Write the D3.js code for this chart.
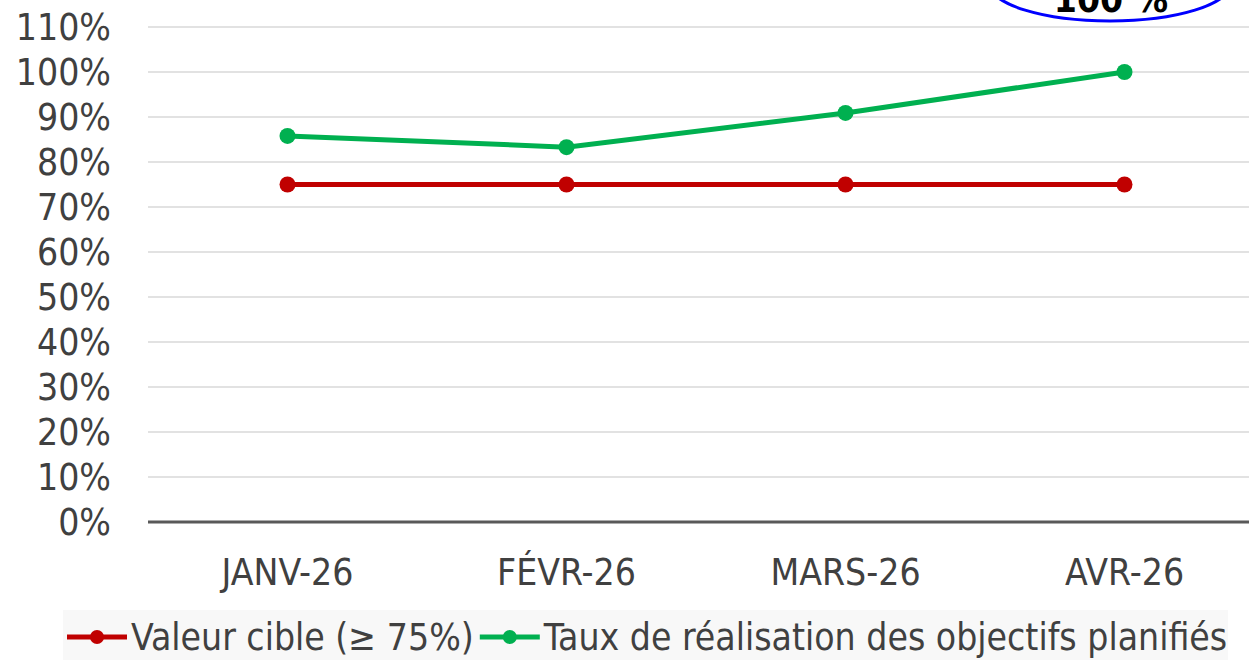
<!DOCTYPE html>
<html>
<head>
    <script src="https://d3js.org/d3.v7.min.js"></script>
    <style>
        body { margin: 0; background: #fff; }
        text { font-family: "DejaVu Sans Condensed", "DejaVu Sans", sans-serif; fill: #404040; }
        .grid line { stroke: #d9d9d9; stroke-width: 1.5px; }
    </style>
</head>
<body>
    <div id="chart"></div>
    <script>
        // Chart data
        const months = ['JANV-26', 'FÉVR-26', 'MARS-26', 'AVR-26'];
        const cible = [0.75, 0.75, 0.75, 0.75];
        const taux = [0.858, 0.833, 0.909, 1.0];
        const yTicks = [0, 0.1, 0.2, 0.3, 0.4, 0.5, 0.6, 0.7, 0.8, 0.9, 1.0, 1.1];
        const seriesNames = ['Valeur cible (≥ 75%)', 'Taux de réalisation des objectifs planifiés'];
        const seriesColors = ['#c00000', '#00b050'];
        const badge = '100 %';

        const width = 1249, height = 660;
        const fs = '37px';

        const svg = d3.select('#chart').append('svg')
            .attr('width', width)
            .attr('height', height);

        const x = d3.scaleBand().domain(months).range([148, 1264]);
        const y = d3.scaleLinear().domain([0, 1.1]).range([522, 27]);

        // gridlines
        svg.append('g').attr('class', 'grid')
            .selectAll('line')
            .data(yTicks.filter(d => d > 0))
            .join('line')
            .attr('x1', 148).attr('x2', 1264)
            .attr('y1', d => y(d)).attr('y2', d => y(d));

        // y labels
        svg.append('g')
            .selectAll('text')
            .data(yTicks)
            .join('text')
            .attr('x', 111)
            .attr('y', d => y(d))
            .attr('dy', '0.36em')
            .attr('text-anchor', 'end')
            .style('font-size', fs)
            .text(d => Math.round(d * 100) + '%');

        // x axis line
        svg.append('line')
            .attr('x1', 148).attr('x2', 1264)
            .attr('y1', y(0)).attr('y2', y(0))
            .attr('stroke', '#595959')
            .attr('stroke-width', 3);

        svg.append('g')
            .selectAll('text')
            .data(months)
            .join('text')
            .attr('x', d => x(d) + x.bandwidth() / 2)
            .attr('y', 572)
            .attr('dy', '0.36em')
            .attr('text-anchor', 'middle')
            .style('font-size', fs)
            .text(d => d);

        const line = d3.line()
            .x((d, i) => x(months[i]) + x.bandwidth() / 2)
            .y(d => y(d));

        [cible, taux].forEach((vals, k) => {
            svg.append('path')
                .datum(vals)
                .attr('fill', 'none')
                .attr('stroke', seriesColors[k])
                .attr('stroke-width', 5)
                .attr('d', line);
            svg.append('g')
                .selectAll('circle')
                .data(vals)
                .join('circle')
                .attr('cx', (d, i) => x(months[i]) + x.bandwidth() / 2)
                .attr('cy', d => y(d))
                .attr('r', 8)
                .attr('fill', seriesColors[k]);
        });

        // legend
        svg.append('rect')
            .attr('x', 63).attr('y', 610)
            .attr('width', 1165).attr('height', 50)
            .attr('fill', '#f8f8f8');

        let legX = 67;
        seriesNames.forEach((name, k) => {
            const g = svg.append('g').attr('transform', `translate(${legX},637)`);
            g.append('line')
                .attr('x1', 0).attr('x2', 60)
                .attr('stroke', seriesColors[k])
                .attr('stroke-width', 5);
            g.append('circle')
                .attr('cx', 30).attr('r', 7)
                .attr('fill', seriesColors[k]);
            const t = g.append('text')
                .attr('x', 64)
                .attr('dy', '0.36em')
                .style('font-size', fs)
                .text(name);
            legX += 64 + t.node().getComputedTextLength() + 6;
        });

        // badge ellipse (cut by the top edge, as in the source)
        svg.append('ellipse')
            .attr('cx', 1110).attr('cy', -16)
            .attr('rx', 120).attr('ry', 37)
            .attr('fill', 'none')
            .attr('stroke', '#0000ff')
            .attr('stroke-width', 3);
        svg.append('text')
            .attr('x', 1111).attr('y', 12)
            .attr('text-anchor', 'middle')
            .style('font-size', fs)
            .style('font-weight', 'bold')
            .style('fill', '#000')
            .text(badge);
    </script>
</body>
</html>
